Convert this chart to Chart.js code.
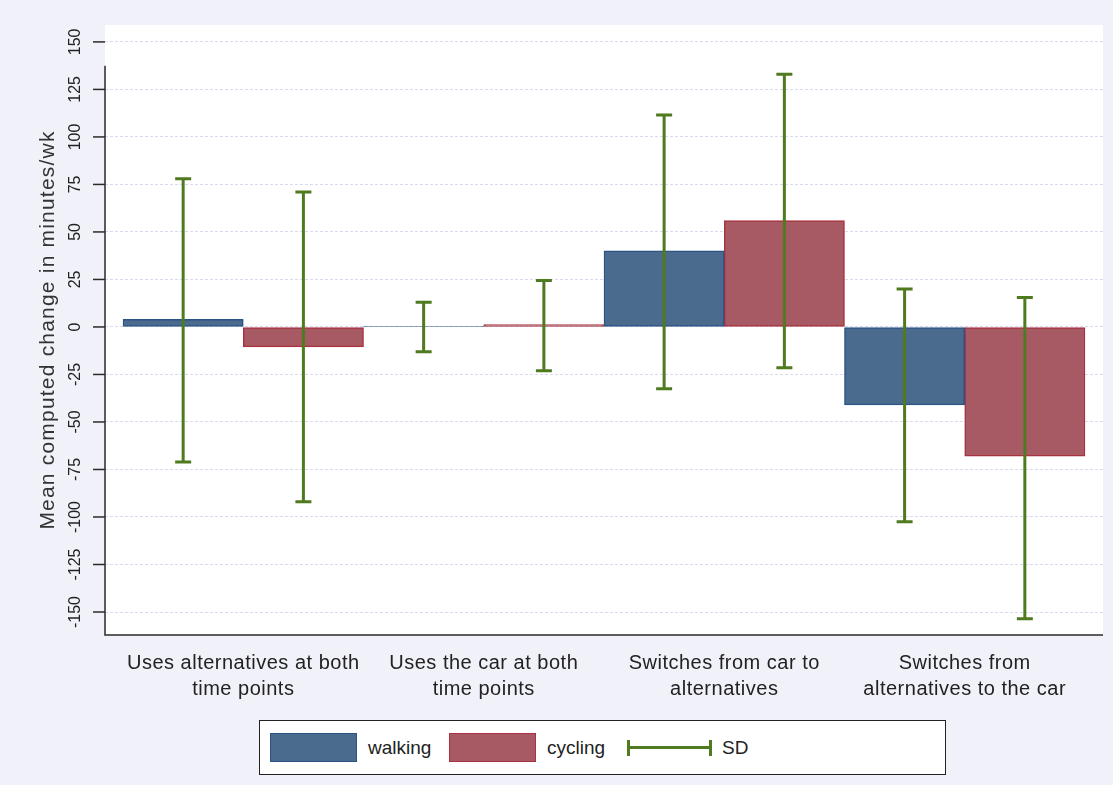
<!DOCTYPE html>
<html>
<head>
<meta charset="utf-8">
<script src="https://cdn.jsdelivr.net/npm/chart.js@4.4.1/dist/chart.umd.min.js"></script>
<style>
  html, body { margin: 0; padding: 0; background: #f1f1f9; }
  #wrap { position: relative; width: 1113px; height: 785px; }
  #legend {
    position: absolute; left: 259px; top: 720px; width: 685px; height: 53px;
    border: 1.5px solid #222; background: #ffffff;
    font-family: "Liberation Sans", Arial, sans-serif; font-size: 19px; color: #222;
  }
  .item { position: absolute; top: 0; height: 53px; display: flex; align-items: center; }
  .sw { width: 87px; height: 29px; box-sizing: border-box; margin-right: 11px; }
  .sd { position: relative; width: 85px; height: 16px; margin-right: 10px; }
  .sd .h { position: absolute; left: 0; right: 0; top: 6.5px; height: 3px; background: #4f7a1f; }
  .sd .c1, .sd .c2 { position: absolute; top: 0; width: 3px; height: 16px; background: #4f7a1f; }
  .sd .c1 { left: 0; } .sd .c2 { right: 0; }
</style>
</head>
<body>
<div id="wrap">
  <canvas id="c" width="1113" height="785"></canvas>
  <div id="legend">
    <div class="item" style="left:10px"><div class="sw" style="background:#4a6b8e;border:1.5px solid #2b5384"></div><span>walking</span></div>
    <div class="item" style="left:189px"><div class="sw" style="background:#a85a64;border:1.5px solid #a8323f"></div><span>cycling</span></div>
    <div class="item" style="left:367px"><div class="sd"><div class="h"></div><div class="c1"></div><div class="c2"></div></div><span>SD</span></div>
  </div>
</div>
<script>
const categories = [
  ["Uses alternatives at both", "time points"],
  ["Uses the car at both", "time points"],
  ["Switches from car to", "alternatives"],
  ["Switches from", "alternatives to the car"]
];
const walking = [4, 0.3, 40, -41];
const cycling = [-10.5, 1.3, 56, -68];
const walkingSDLow = [-71, -13, -32.5, -102.5];
const walkingSDHigh = [78, 13, 111.5, 20];
const cyclingSDLow = [-92, -23, -21.5, -153.5];
const cyclingSDHigh = [71, 24.5, 133, 15.5];
const yTicks = [150, 125, 100, 75, 50, 25, 0, -25, -50, -75, -100, -125, -150];
const yTickLabels = ["150", "125", "100", "75", "50", "25", "0", "-25", "-50", "-75", "-100", "-125", "-150"];
const yTitle = "Mean computed change in minutes/wk";
const seriesNames = ["walking", "cycling"];

const FONT = '"Liberation Sans", Arial, sans-serif';
const GREEN = '#4f7a1f';

const sdLow = [walkingSDLow, cyclingSDLow];
const sdHigh = [walkingSDHigh, cyclingSDHigh];

const decor = {
  id: 'decor',
  beforeDraw(chart) {
    const {ctx, chartArea: a} = chart;
    ctx.save();
    ctx.fillStyle = '#ffffff';
    ctx.fillRect(a.left, a.top, a.right - a.left, a.bottom - a.top);
    ctx.restore();
  },
  afterDatasetsDraw(chart) {
    const {ctx} = chart;
    const y = chart.scales.y;
    ctx.save();
    ctx.strokeStyle = GREEN;
    ctx.lineWidth = 3;
    ctx.lineCap = 'butt';
    for (let d = 0; d < 2; d++) {
      const meta = chart.getDatasetMeta(d);
      meta.data.forEach((bar, i) => {
        const x = bar.x;
        const yl = y.getPixelForValue(sdLow[d][i]);
        const yh = y.getPixelForValue(sdHigh[d][i]);
        ctx.beginPath();
        ctx.moveTo(x, yl); ctx.lineTo(x, yh);
        ctx.moveTo(x - 8, yl); ctx.lineTo(x + 8, yl);
        ctx.moveTo(x - 8, yh); ctx.lineTo(x + 8, yh);
        ctx.stroke();
      });
    }
    ctx.restore();
  },
  afterDraw(chart) {
    const {ctx, chartArea: a} = chart;
    const y = chart.scales.y;
    const x = chart.scales.x;
    ctx.save();
    // axes lines
    ctx.strokeStyle = '#2a2a2a';
    ctx.lineWidth = 1.5;
    ctx.beginPath();
    ctx.moveTo(a.left, y.getPixelForValue(137.5));
    ctx.lineTo(a.left, a.bottom);
    ctx.lineTo(a.right, a.bottom);
    ctx.stroke();
    // ticks + rotated labels
    ctx.fillStyle = '#222';
    ctx.font = '16px ' + FONT;
    ctx.textAlign = 'center';
    ctx.textBaseline = 'bottom';
    yTicks.forEach((v, i) => {
      const py = y.getPixelForValue(v);
      ctx.beginPath();
      ctx.moveTo(a.left - 12, py); ctx.lineTo(a.left, py);
      ctx.stroke();
      ctx.save();
      ctx.translate(a.left - 21, py);
      ctx.rotate(-Math.PI / 2);
      ctx.fillText(yTickLabels[i], 0, 0);
      ctx.restore();
    });
    // x category labels
    ctx.font = '20px ' + FONT;
    ctx.fillStyle = '#222';
    ctx.textBaseline = 'middle';
    if ('letterSpacing' in ctx) ctx.letterSpacing = '0.5px';
    categories.forEach((lines, i) => {
      const px = x.getPixelForValue(i);
      lines.forEach((t, k) => ctx.fillText(t, px, a.bottom + 28 + k * 26));
    });
    // y title
    ctx.save();
    ctx.font = '21px ' + FONT;
    ctx.fillStyle = '#333';
    if ('letterSpacing' in ctx) ctx.letterSpacing = '1.2px';
    ctx.textBaseline = 'middle';
    ctx.translate(48, (a.top + a.bottom) / 2);
    ctx.rotate(-Math.PI / 2);
    ctx.fillText(yTitle, 0, 0);
    ctx.restore();
    ctx.restore();
  }
};

new Chart(document.getElementById('c'), {
  type: 'bar',
  data: {
    datasets: [
      {
        label: seriesNames[0],
        data: walking.map((v, i) => ({x: i, y: v})),
        backgroundColor: '#4a6b8e',
        borderColor: '#2b5384',
        borderWidth: 1.5,
        borderSkipped: false
      },
      {
        label: seriesNames[1],
        data: cycling.map((v, i) => ({x: i, y: v})),
        backgroundColor: '#a85a64',
        borderColor: '#a8323f',
        borderWidth: 1.5,
        borderSkipped: false
      }
    ]
  },
  options: {
    responsive: false,
    animation: false,
    devicePixelRatio: 1,
    layout: { padding: { left: 105, right: 10, top: 25, bottom: 150 } },
    plugins: { legend: { display: false }, tooltip: { enabled: false } },
    datasets: { bar: { categoryPercentage: 1, barPercentage: 1 } },
    scales: {
      x: {
        type: 'linear',
        display: false,
        offset: false,
        min: -0.575,
        max: 3.575,
        afterBuildTicks: (axis) => { axis.ticks = categories.map((c, i) => ({value: i})); }
      },
      y: {
        type: 'linear',
        min: -162.1,
        max: 158.9,
        afterBuildTicks: (axis) => { axis.ticks = yTicks.map(v => ({value: v})); },
        ticks: { display: false },
        border: { display: false, dash: [3, 2] },
        grid: {
          drawTicks: false,
          color: 'rgba(200,200,236,0.7)',
          lineWidth: 1
        }
      }
    }
  },
  plugins: [decor]
});
</script>
</body>
</html>
